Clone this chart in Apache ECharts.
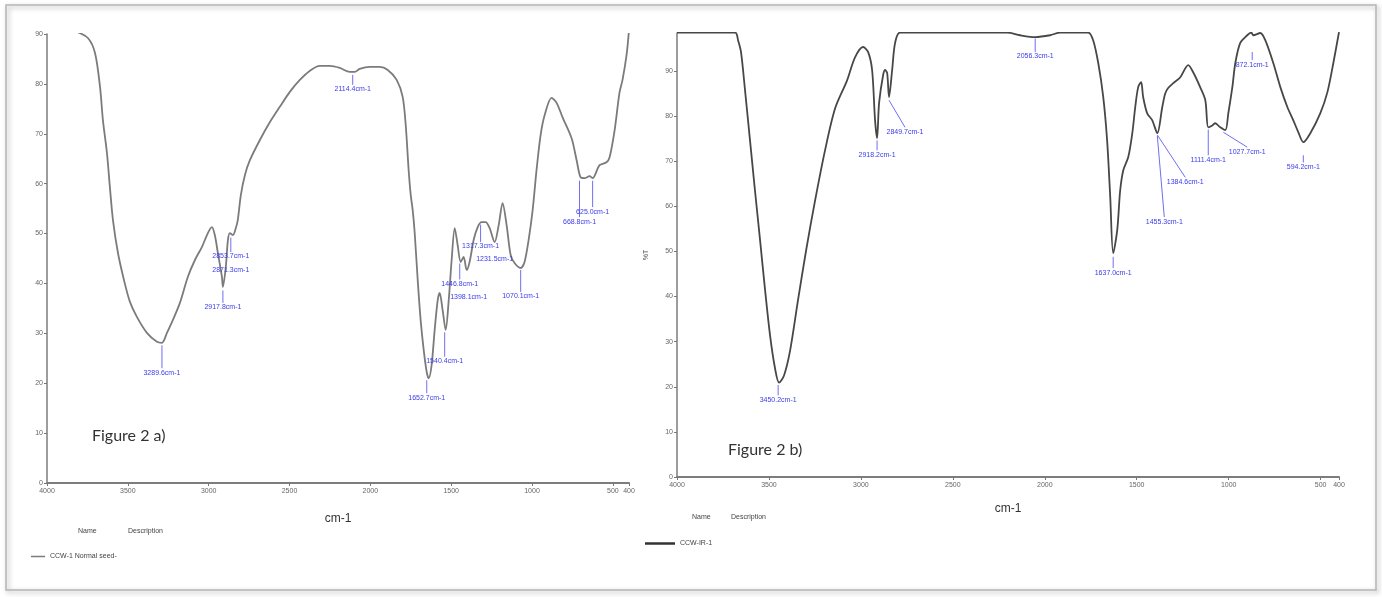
<!DOCTYPE html>
<html><head><meta charset="utf-8">
<script src="https://cdn.jsdelivr.net/npm/echarts@6/dist/echarts.min.js"></script>
<style>html,body{margin:0;padding:0;background:#fff}#c{width:1382px;height:597px}</style>
</head><body><div id="c"></div>
<script>
// ---------- DATA ----------
const xTickValues = [4000, 3500, 3000, 2500, 2000, 1500, 1000, 500, 400];
const yTickValues = [0, 10, 20, 30, 40, 50, 60, 70, 80, 90];

// Figure 2 a) CCW-1 Normal seed : wavenumber (cm-1), %T
const aWave = [3820,3747,3703,3672,3654,3629,3611,3592,3561,3524,3487,3444,3382,3320,3289,3258,3221,3178,3129,3085,3042,3005,2980,2962,2943,2918,2912,2894,2881,2869,2850,2832,2820,2801,2776,2745,2684,2622,2560,2498,2436,2375,2313,2251,2189,2127,2096,2066,2004,1942,1892,1837,1800,1781,1763,1750,1738,1726,1707,1689,1670,1651,1639,1621,1602,1583,1571,1553,1534,1515,1497,1478,1460,1441,1423,1404,1386,1361,1336,1312,1287,1262,1231,1206,1182,1157,1132,1108,1070,1046,1021,996,972,947,922,879,848,811,755,724,700,675,644,625,582,539,520,489,459,440,415,400];
const aT = [90.5,89.2,86.2,79.4,72.7,66.1,59.3,52.7,46.1,40.7,36.3,33.3,30.1,28.3,28.1,30.1,32.7,36.1,41.3,44.7,47.3,50.1,51.3,49.7,46.1,41.3,39.3,43.3,48.7,50.1,49.7,51.1,52.7,57.7,61.7,64.7,68.7,72.3,75.4,78.4,80.8,82.6,83.6,83.6,83.2,82.4,82.4,83.0,83.4,83.4,82.8,80.8,77.4,71.7,62.7,57.7,54.7,50.3,40.7,32.7,26.7,22.2,21.0,23.6,30.7,36.7,38.1,34.7,30.7,36.7,44.7,51.1,47.7,44.3,45.3,42.7,44.3,48.7,51.3,52.3,52.3,51.1,48.3,51.7,56.1,51.7,45.7,44.1,43.1,44.3,48.7,54.7,62.7,69.7,73.7,77.2,76.2,73.3,69.1,64.7,61.3,61.1,61.5,61.1,63.7,64.3,65.3,70.7,78.2,80.8,85.8,90.8];

// Figure 2 b) CCW-IR-1
const bWave = [4000,3684,3668,3652,3630,3603,3576,3548,3521,3494,3467,3445,3418,3385,3342,3298,3249,3195,3140,3075,3032,2988,2961,2939,2923,2912,2901,2879,2868,2857,2847,2830,2814,2787,2500,2205,2134,2052,1971,1916,1764,1737,1709,1682,1661,1644,1628,1606,1590,1573,1546,1524,1508,1492,1476,1465,1443,1416,1388,1361,1345,1329,1301,1263,1220,1193,1155,1127,1111,1089,1073,1046,1018,1002,980,964,937,899,877,866,828,801,757,719,681,649,621,594,556,502,463,431,400];
const bT = [98.5,98.5,96.8,94.2,85.7,74.6,63.5,52.4,41.4,31.4,24.1,20.9,22.5,28.0,39.2,50.2,61.3,72.4,81.7,87.9,93.0,95.3,94.2,90.2,79.1,75.1,82.9,89.1,90.2,89.5,84.2,90.2,96.2,98.5,98.5,98.5,97.9,97.5,97.9,98.5,98.5,96.8,91.7,84.2,74.6,62.0,49.6,54.7,63.5,68.0,70.9,76.2,82.0,86.4,87.5,84.2,80.6,79.1,76.2,82.0,85.0,86.2,87.3,88.6,91.3,89.7,86.4,83.5,77.5,77.9,78.4,77.5,76.9,80.6,86.4,91.7,96.2,97.9,98.5,97.9,98.4,96.8,91.7,86.4,82.0,79.1,76.4,74.2,76.2,80.6,85.3,91.7,98.6];

// Peak annotations: [x1, y1, x2, y2]  (line from curve to label), texts separately
const aPeakLines = [[3289,27.6,3289,23.0],[2912,38.6,2912,36.1],[2863,49.2,2863,46.3],[2863,46.3,2863,46.3],[2109,81.8,2109,79.8],[1651,20.6,1651,18.0],[1540,30.2,1540,25.3],[1447,44.0,1447,40.8],[1392,38.2,1392,38.2],[1318,51.8,1318,48.3],[1231,45.8,1231,45.8],[1070,42.7,1070,38.3],[706,60.6,706,53.3],[625,60.6,625,55.3]];
const aPeakTexts = ['3289.6cm-1','2917.8cm-1','2853.7cm-1','2871.3cm-1','2114.4cm-1','1652.7cm-1','1540.4cm-1','1446.8cm-1','1398.1cm-1','1317.3cm-1','1231.5cm-1','1070.1cm-1','668.8cm-1','625.0cm-1'];
const aTextDy = [0,0,0,14,0,0,0,0,0,0,0,0,0,0];

const bPeakLines = [[3450,20.4,3450,18.1],[2912,74.6,2912,72.4],[2847,83.5,2760,77.5],[2052,97.2,2052,94.2],[1628,48.8,1628,46.3],[1388,75.8,1236,66.4],[1388,75.6,1350,57.6],[1111,77.0,1111,71.3],[1029,76.4,899,73.1],[872,94.2,872,92.4],[594,71.3,594,69.7]];
const bPeakTexts = ['3450.2cm-1','2918.2cm-1','2849.7cm-1','2056.3cm-1','1637.0cm-1','1384.6cm-1','1455.3cm-1','1111.4cm-1','1027.7cm-1','872.1cm-1','594.2cm-1'];

const seriesNames = ['CCW-1 Normal seed-', 'CCW-IR-1'];
const figureTitles = ['Figure 2 a)', 'Figure 2 b)'];
const axisTitle = 'cm-1';

// ---------- CHART ----------
const chart = echarts.init(document.getElementById('c'), null, {renderer: 'canvas'});
const small = "'Liberation Sans Narrow','Liberation Sans',sans-serif";

function zip(xs, ys) { return xs.map((x, i) => [x, ys[i]]); }

function labelRender(texts, dys) {
  return function (params, api) {
    const i = params.dataIndex;
    const p1 = api.coord([api.value(0), api.value(1)]);
    const p2 = api.coord([api.value(2), api.value(3)]);
    const children = [];
    if (Math.abs(p1[1] - p2[1]) > 0.5 || Math.abs(p1[0] - p2[0]) > 0.5) {
      children.push({type: 'line', shape: {x1: p1[0], y1: p1[1], x2: p2[0], y2: p2[1]},
        style: {stroke: '#6f6ff2', lineWidth: 1}});
    }
    children.push({type: 'text', x: p2[0], y: p2[1] + 1 + (dys ? dys[i] : 0),
      style: {text: texts[i], fill: '#3b3bea', font: "7px " + small, align: 'center', verticalAlign: 'top'}});
    return {type: 'group', children};
  };
}

function xAxisCfg(gi, gap) {
  return {
    gridIndex: gi, type: 'value', min: 400, max: 4000, inverse: true,
    name: axisTitle, nameLocation: 'middle', nameGap: gap,
    nameTextStyle: {color: '#333', fontSize: 12, fontFamily: small},
    axisLine: {lineStyle: {color: '#7d7d7d', width: 2}},
    axisTick: {customValues: xTickValues, length: 3, lineStyle: {color: '#777'}},
    axisLabel: {customValues: xTickValues, color: '#666', fontSize: 7, margin: 5, fontFamily: small,
      formatter: v => String(v)},
    splitLine: {show: false}
  };
}
function yAxisCfg(gi, max, name) {
  return {
    gridIndex: gi, type: 'value', min: 0, max: max,
    name: name || '', nameLocation: 'middle', nameGap: 27, nameRotate: 90,
    nameTextStyle: {color: '#555', fontSize: 7, fontFamily: small},
    axisLine: {show: true, lineStyle: {color: '#7d7d7d', width: 1.5}},
    axisTick: {show: true, customValues: yTickValues, length: 3, lineStyle: {color: '#777'}},
    axisLabel: {customValues: yTickValues, color: '#666', fontSize: 7, margin: 4, fontFamily: small,
      formatter: v => String(v)},
    splitLine: {show: false}
  };
}

const option = {
  backgroundColor: '#ffffff',
  animation: false,
  grid: [
    {left: 47, top: 34, width: 582, height: 449},
    {left: 677, top: 33, width: 662, height: 444}
  ],
  xAxis: [xAxisCfg(0, 30), xAxisCfg(1, 26)],
  yAxis: [yAxisCfg(0, 90), yAxisCfg(1, 98.4, '%T')],
  legend: [
    {data: [seriesNames[0]], left: 26, top: 548, itemWidth: 14, itemHeight: 1.5, icon: 'rect', itemGap: 4,
      textStyle: {fontSize: 7, color: '#444', fontFamily: small}},
    {data: [seriesNames[1]], left: 640, top: 535, itemWidth: 30, itemHeight: 2.5, icon: 'rect', itemGap: 4,
      textStyle: {fontSize: 7, color: '#444', fontFamily: small}}
  ],
  series: [
    {name: seriesNames[0], type: 'line', xAxisIndex: 0, yAxisIndex: 0, data: zip(aWave, aT),
      showSymbol: false, smooth: 0.3, clip: true, lineStyle: {color: '#7b7b7b', width: 1.8}, itemStyle: {color: '#7b7b7b'}},
    {name: seriesNames[1], type: 'line', xAxisIndex: 1, yAxisIndex: 1, data: zip(bWave, bT),
      showSymbol: false, smooth: 0.3, clip: true, lineStyle: {color: '#474747', width: 1.8}, itemStyle: {color: '#333'}},
    {type: 'custom', xAxisIndex: 0, yAxisIndex: 0, data: aPeakLines, encode: {x: [0, 2], y: [1, 3]},
      renderItem: labelRender(aPeakTexts, aTextDy), clip: false, z: 5},
    {type: 'custom', xAxisIndex: 1, yAxisIndex: 1, data: bPeakLines, encode: {x: [0, 2], y: [1, 3]},
      renderItem: labelRender(bPeakTexts, null), clip: false, z: 5}
  ],
  graphic: [
    {type: 'rect', shape: {x: 6, y: 5, width: 1370, height: 585}, z: -1,
      style: {fill: 'transparent', stroke: '#b5b5b5', lineWidth: 1.5, shadowBlur: 5, shadowColor: 'rgba(0,0,0,0.35)', shadowOffsetX: 2, shadowOffsetY: 2}},
    {type: 'text', x: 92, y: 428, style: {text: figureTitles[0], font: "16px Lato, 'Open Sans', sans-serif", fill: '#333'}},
    {type: 'text', x: 728, y: 442, style: {text: figureTitles[1], font: "16px Lato, 'Open Sans', sans-serif", fill: '#333'}},
    {type: 'text', x: 78, y: 528, style: {text: 'Name', font: "7px " + small, fill: '#444'}},
    {type: 'text', x: 128, y: 528, style: {text: 'Description', font: "7px " + small, fill: '#444'}},
    {type: 'text', x: 692, y: 514, style: {text: 'Name', font: "7px " + small, fill: '#444'}},
    {type: 'text', x: 731, y: 514, style: {text: 'Description', font: "7px " + small, fill: '#444'}}
  ]
};
chart.setOption(option);
</script>
</body></html>
